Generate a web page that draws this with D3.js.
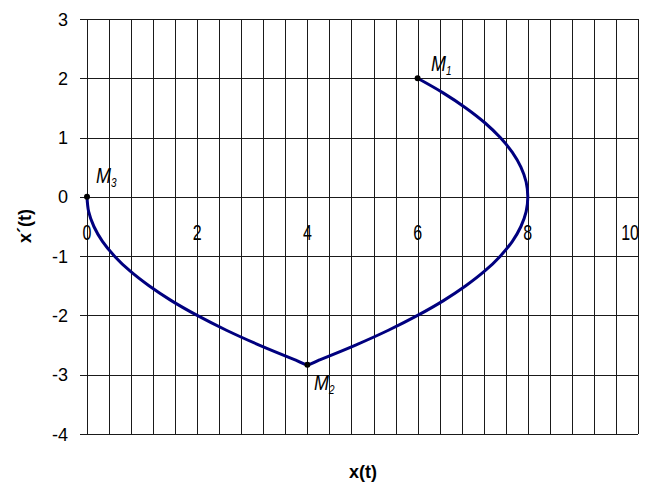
<!DOCTYPE html>
<html>
<head>
<meta charset="utf-8">
<script src="https://cdn.jsdelivr.net/npm/d3@7"></script>
<style>
  body { margin: 0; background: #fff; }
  svg text { font-family: Arial, "Liberation Sans", sans-serif; fill: #000; }
</style>
</head>
<body>
<div id="root"></div>
<script>
// trajectory: M1 -> around x=8 -> M2 -> M3
const arcX = [6, 6.47, 6.875, 7.22, 7.5, 7.72, 7.875, 7.97, 8, 7.97, 7.875, 7.72, 7.5, 7.22, 6.875, 6.47, 6, 5.47, 4.875, 4.22, 4,
  3.78, 3.125, 2.53, 2, 1.53, 1.125, 0.78, 0.5, 0.28, 0.125, 0.03, 0];
const arcY = [2, 1.75, 1.5, 1.25, 1, 0.75, 0.5, 0.25, 0, -0.25, -0.5, -0.75, -1, -1.25, -1.5, -1.75, -2, -2.25, -2.5, -2.75, -2.83,
  -2.75, -2.5, -2.25, -2, -1.75, -1.5, -1.25, -1, -0.75, -0.5, -0.25, 0];

const pointNames = ["1", "2", "3"];
const pointX = [6, 4, 0];
const pointY = [2, -2.83, 0];

const xTicks = [0, 2, 4, 6, 8, 10];
const yTicks = [-4, -3, -2, -1, 0, 1, 2, 3];
const xGridStep = 0.4;

const w = 649;
const h = 486;

const xScale = d3.scaleLinear().domain([0, 10]).range([87, 638]);
const yScale = d3.scaleLinear().domain([-4, 3]).range([434, 19]);

const svg = d3.select("#root")
  .append("svg")
  .attr("width", w)
  .attr("height", h);

// grid
const xGrid = d3.range(0, 10 + 1e-9, xGridStep);
svg.append("g")
  .selectAll("line")
  .data(xGrid)
  .enter()
  .append("line")
  .attr("x1", d => Math.round(xScale(d)) + 0.5)
  .attr("x2", d => Math.round(xScale(d)) + 0.5)
  .attr("y1", yScale(3))
  .attr("y2", yScale(-4))
  .attr("stroke", "#1a1a1a")
  .attr("stroke-width", 1);

svg.append("g")
  .selectAll("line")
  .data(yTicks)
  .enter()
  .append("line")
  .attr("x1", xScale(0) - 7)
  .attr("x2", xScale(10))
  .attr("y1", d => Math.round(yScale(d)) + 0.5)
  .attr("y2", d => Math.round(yScale(d)) + 0.5)
  .attr("stroke", "#1a1a1a")
  .attr("stroke-width", 1);

// y tick labels
svg.append("g")
  .selectAll("text")
  .data(yTicks)
  .enter()
  .append("text")
  .attr("x", 68)
  .attr("y", d => yScale(d) + 6.5)
  .attr("text-anchor", "end")
  .attr("font-size", 18)
  .text(d => d);

// x tick labels, sitting under the zero line
svg.append("g")
  .selectAll("text")
  .data(xTicks)
  .enter()
  .append("text")
  .attr("transform", (d, i) => `translate(${i === xTicks.length - 1 ? xScale(d) + 1 : xScale(d)}, ${yScale(0) + 43}) scale(1, 1.4)`)
  .attr("text-anchor", (d, i) => i === xTicks.length - 1 ? "end" : "middle")
  .attr("font-size", 16)
  .text(d => d);

// curve
const line = d3.line()
  .x((d, i) => xScale(arcX[i]))
  .y((d, i) => yScale(arcY[i]))
  .curve(d3.curveCatmullRom);

svg.append("path")
  .datum(arcX)
  .attr("d", line)
  .attr("fill", "none")
  .attr("stroke", "#00007f")
  .attr("stroke-width", 3)
  .attr("stroke-linejoin", "round");

// points
svg.append("g")
  .selectAll("circle")
  .data(pointX)
  .enter()
  .append("circle")
  .attr("cx", (d, i) => xScale(pointX[i]))
  .attr("cy", (d, i) => yScale(pointY[i]))
  .attr("r", 3)
  .attr("fill", "#000");

// point labels
const labelPos = [[431, 71], [314, 390], [96, 183]];
pointNames.forEach((n, i) => {
  const t = svg.append("text")
    .attr("transform", `translate(${labelPos[i][0]}, ${labelPos[i][1]}) scale(1, 1.2)`)
    .attr("font-size", 18)
    .attr("font-style", "italic");
  t.append("tspan").text("M");
  t.append("tspan")
    .attr("font-size", 10)
    .attr("dy", 3)
    .text(n);
});

// axis titles
svg.append("text")
  .attr("x", 363)
  .attr("y", 478)
  .attr("text-anchor", "middle")
  .attr("font-size", 18)
  .attr("font-weight", "bold")
  .text("x(t)");

svg.append("text")
  .attr("transform", "translate(31, 226) rotate(-90)")
  .attr("text-anchor", "middle")
  .attr("font-size", 18)
  .attr("font-weight", "bold")
  .text("x´(t)");
</script>
</body>
</html>
